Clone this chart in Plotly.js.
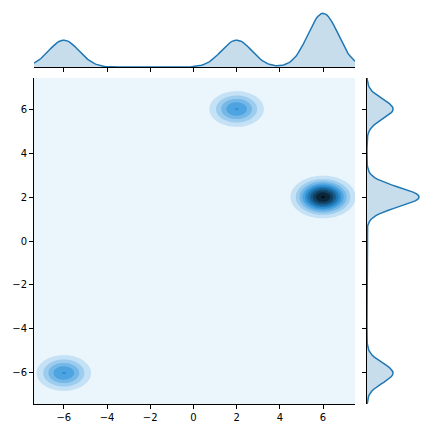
<!DOCTYPE html>
<html>
<head>
<meta charset="utf-8">
<script src="https://cdn.plot.ly/plotly-3.0.1.min.js"></script>
<style>html,body{margin:0;padding:0;background:#fff;}#plot{width:432px;height:432px;}</style>
</head>
<body>
<div id="plot"></div>
<script>
// Cluster components (KDE mixture)
const centersX = [-6, 2, 6];
const centersY = [-6, 6, 2];
const weights = [0.25, 0.25, 0.5];
const sigmaX = [0.7, 0.7, 0.7];
const sigmaY = [0.45, 0.45, 0.45];

// Axis limits and ticks
const xLimits = [-7.38, 7.48];
const yLimits = [-7.41, 7.41];
const tickValues = [-6, -4, -2, 0, 2, 4, 6];
const tickLabels = ["\u22126", "\u22124", "\u22122", "0", "2", "4", "6"];
const levelStep = 0.025;
const levelStart = 0.025;
const levelEnd = 0.25;

const N = 181;
function gauss(v, m, s) { return Math.exp(-0.5 * ((v - m) / s) ** 2) / (Math.sqrt(2 * Math.PI) * s); }
const gx = [], gy = [];
for (let i = 0; i < N; i++) {
  gx.push(xLimits[0] + (xLimits[1] - xLimits[0]) * i / (N - 1));
  gy.push(yLimits[0] + (yLimits[1] - yLimits[0]) * i / (N - 1));
}
const z = gy.map(yv => gx.map(xv => {
  let s = 0;
  for (let k = 0; k < weights.length; k++) s += weights[k] * gauss(xv, centersX[k], sigmaX[k]) * gauss(yv, centersY[k], sigmaY[k]);
  return s;
}));
const margX = gx.map(xv => { let s = 0; for (let k = 0; k < weights.length; k++) s += weights[k] * gauss(xv, centersX[k], sigmaX[k]); return s; });
const margY = gy.map(yv => { let s = 0; for (let k = 0; k < weights.length; k++) s += weights[k] * gauss(yv, centersY[k], sigmaY[k]); return s; });

// seaborn jointplot cmap: hue of C0, lightness 1 -> 0
const base = [0x1f / 255, 0x77 / 255, 0xb4 / 255];
function rgb2hls(r, g, b) {
  const mx = Math.max(r, g, b), mn = Math.min(r, g, b), l = (mx + mn) / 2;
  if (mx === mn) return [0, l, 0];
  const d = mx - mn;
  const s = l <= 0.5 ? d / (mx + mn) : d / (2 - mx - mn);
  let h;
  if (mx === r) h = ((g - b) / d) / 6; else if (mx === g) h = (2 + (b - r) / d) / 6; else h = (4 + (r - g) / d) / 6;
  return [(h + 1) % 1, l, s];
}
function v(m1, m2, hue) { hue = ((hue % 1) + 1) % 1; if (hue < 1 / 6) return m1 + (m2 - m1) * hue * 6; if (hue < 0.5) return m2; if (hue < 2 / 3) return m1 + (m2 - m1) * (2 / 3 - hue) * 6; return m1; }
function hls2rgb(h, l, s) { if (s === 0) return [l, l, l]; const m2 = l <= 0.5 ? l * (1 + s) : l + s - l * s; const m1 = 2 * l - m2; return [v(m1, m2, h + 1 / 3), v(m1, m2, h), v(m1, m2, h - 1 / 3)]; }
const hls = rgb2hls(...base);
const stops = [];
for (let i = 0; i < 12; i++) stops.push(hls2rgb(hls[0], 1 - i / 11, hls[2]));
function cmap(t) {
  const p = t * 11, i = Math.min(10, Math.floor(p)), f = p - i;
  return stops[i].map((c, j) => c + (stops[i + 1][j] - c) * f);
}
const nBands = Math.round((levelEnd - levelStart) / levelStep) + 2; // 11 bands
const colorscale = [];
for (let i = 0; i <= 20; i++) {
  const s = i / 20;
  const t = (0.5 + s * (nBands - 1)) / nBands;
  const c = cmap(t).map(q => Math.round(q * 255));
  colorscale.push([s, `rgb(${c[0]},${c[1]},${c[2]})`]);
}

const lineColor = '#1f77b4';
const fillColor = 'rgba(31,119,180,0.25)';
const font = { family: 'DejaVu Sans', size: 10, color: '#000' };

const traces = [
  {
    type: 'contour', x: gx, y: gy, z: z, xaxis: 'x', yaxis: 'y',
    colorscale: colorscale, showscale: false, autocontour: false,
    contours: { start: levelStart, end: levelEnd, size: levelStep, coloring: 'fill', showlines: false },
    line: { width: 0 }, hoverinfo: 'skip'
  },
  {
    type: 'scatter', mode: 'lines', x: gx, y: margX, xaxis: 'x2', yaxis: 'y2',
    fill: 'tozeroy', fillcolor: fillColor, line: { color: lineColor, width: 1.5 }, hoverinfo: 'skip'
  },
  {
    type: 'scatter', mode: 'lines', x: margY, y: gy, xaxis: 'x3', yaxis: 'y3',
    fill: 'tozerox', fillcolor: fillColor, line: { color: lineColor, width: 1.5 }, hoverinfo: 'skip'
  }
];

const maxX = Math.max(...margX), maxY = Math.max(...margY);
const axisCommon = {
  showline: true, linecolor: '#000', linewidth: 1, ticks: 'outside', ticklen: 4, tickwidth: 1, tickcolor: '#000',
  showgrid: false, zeroline: false, mirror: false, tickfont: font
};

const layout = {
  width: 432, height: 432, margin: { l: 0, r: 0, t: 0, b: 0 },
  paper_bgcolor: '#fff', plot_bgcolor: '#fff', showlegend: false,
  xaxis: Object.assign({}, axisCommon, { domain: [34 / 432, 355 / 432], range: xLimits, anchor: 'y', tickvals: tickValues, ticktext: tickLabels }),
  yaxis: Object.assign({}, axisCommon, { domain: [1 - 404 / 432, 1 - 78 / 432], range: yLimits, anchor: 'x', tickvals: tickValues, ticktext: tickLabels }),
  xaxis2: Object.assign({}, axisCommon, { domain: [34 / 432, 355 / 432], range: xLimits, anchor: 'y2', tickvals: tickValues, showticklabels: false }),
  yaxis2: { domain: [1 - 67 / 432, 1 - 10.6 / 432], range: [0, maxX * 1.05], anchor: 'x2', visible: false },
  xaxis3: { domain: [367 / 432, 421.6 / 432], range: [0, maxY * 1.05], anchor: 'y3', visible: false },
  yaxis3: Object.assign({}, axisCommon, { domain: [1 - 404 / 432, 1 - 78 / 432], range: yLimits, anchor: 'x3', tickvals: tickValues, showticklabels: false })
};

Plotly.newPlot('plot', traces, layout, { displayModeBar: false, staticPlot: true });
</script>
</body>
</html>
